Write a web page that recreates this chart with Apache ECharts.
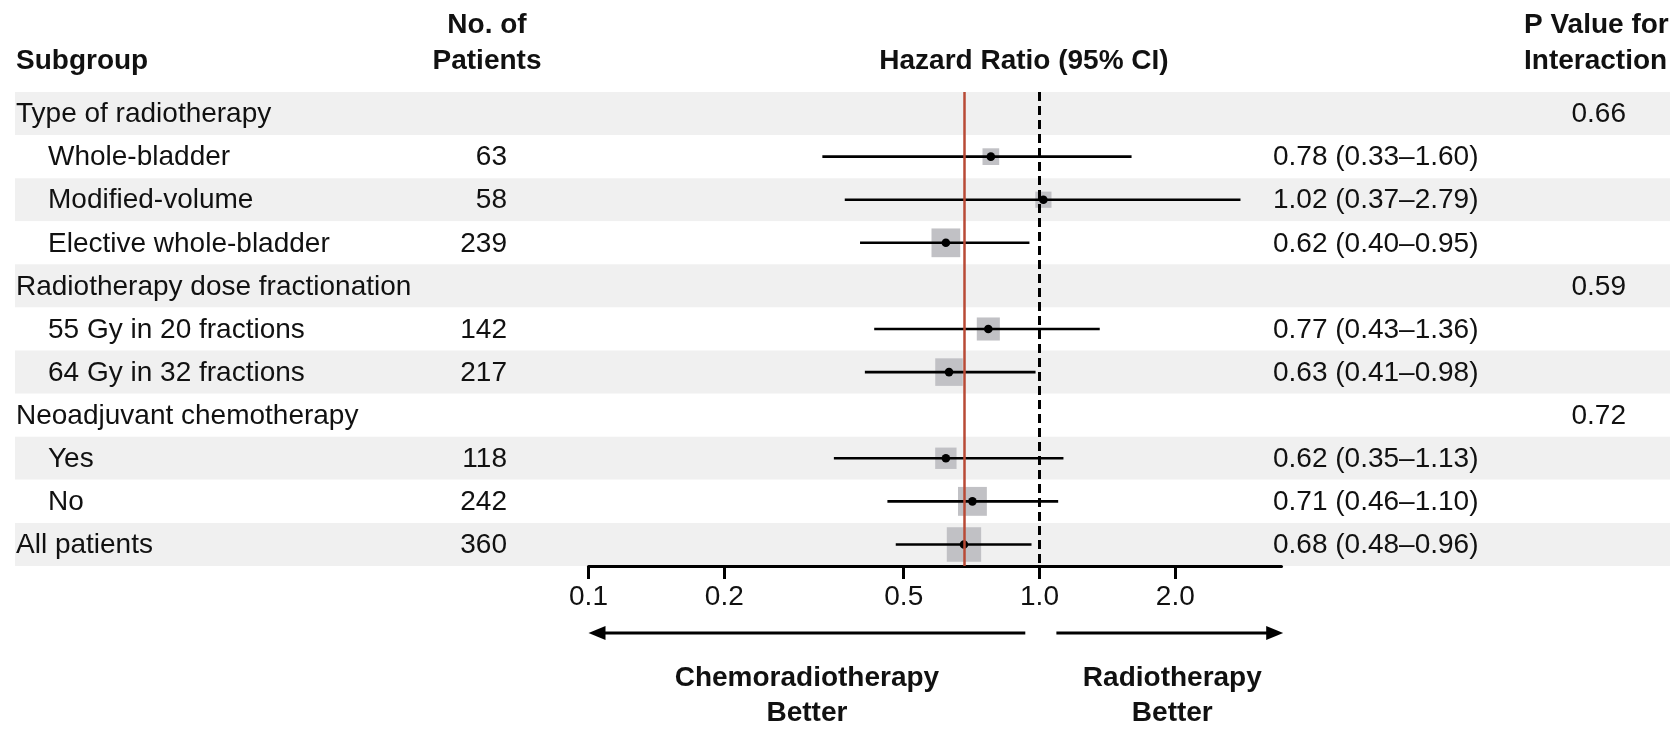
<!DOCTYPE html>
<html>
<head>
<meta charset="utf-8">
<script src="https://cdn.jsdelivr.net/npm/echarts@6/dist/echarts.min.js"></script>
<style>
  html, body { margin: 0; padding: 0; background: #ffffff; }
  #chart { width: 1670px; height: 730px; }
</style>
</head>
<body>
<div id="chart"></div>
<script>
// Forest plot: hazard ratios with 95% CI by subgroup
const subgroups = [
  'Type of radiotherapy', 'Whole-bladder', 'Modified-volume', 'Elective whole-bladder',
  'Radiotherapy dose fractionation', '55 Gy in 20 fractions', '64 Gy in 32 fractions',
  'Neoadjuvant chemotherapy', 'Yes', 'No', 'All patients'
];
const indented     = [false, true, true, true, false, true, true, false, true, true, false];
const patients     = [null, 63, 58, 239, null, 142, 217, null, 118, 242, 360];
const hazardRatio  = [null, 0.78, 1.02, 0.62, null, 0.77, 0.63, null, 0.62, 0.71, 0.68];
const ciLower      = [null, 0.33, 0.37, 0.40, null, 0.43, 0.41, null, 0.35, 0.46, 0.48];
const ciUpper      = [null, 1.60, 2.79, 0.95, null, 1.36, 0.98, null, 1.13, 1.10, 0.96];
const pInteraction = ['0.66', null, null, null, '0.59', null, null, '0.72', null, null, null];
const xTicks = [0.1, 0.2, 0.5, 1.0, 2.0];
const overallHR = 0.68;
const xMin = 0.1, xMax = 3.44;
const arrowLeft = [0.93, 0.1];
const arrowRight = [1.09, 3.47];
const favourLabels = [['Chemoradiotherapy', 'Better'], ['Radiotherapy', 'Better']];
const favourAt = [0.305, 1.97];

const FONT = '"Liberation Sans", Arial, sans-serif';
const FS = 28;
const INK = '#111111';
const DY = 1; // small baseline nudge for all text

// layout of the text columns (pixels)
const col = { group: 16, indent: 48, nRight: 507, hrLeft: 1273, pRight: 1626 };

const rowIdx = subgroups.map((_, i) => i);
const boxSize = n => 4 + 1.6 * Math.sqrt(n);

const estimates = rowIdx
  .filter(i => hazardRatio[i] != null)
  .map(i => [i, hazardRatio[i], ciLower[i], ciUpper[i], patients[i]]);

function txt(text, x, y, align, bold) {
  return {
    type: 'text',
    style: {
      text: text, x: x, y: y + DY,
      fill: INK,
      fontSize: FS, fontFamily: FONT, fontWeight: bold ? 'bold' : 'normal',
      align: align, verticalAlign: 'middle',
      textAlign: align, textVerticalAlign: 'middle'
    }
  };
}

const chart = echarts.init(document.getElementById('chart'), null, { renderer: 'canvas' });

const gridTop = 92, gridH = 474;

chart.setOption({
  animation: false,
  backgroundColor: '#ffffff',
  grid: [
    { left: 15, right: 0, top: gridTop, height: gridH },
    { left: 588.5, width: 693, top: gridTop, height: gridH }
  ],
  xAxis: [
    { gridIndex: 0, type: 'value', min: 0, max: 1, show: false },
    {
      gridIndex: 1, type: 'log', logBase: 10, min: xMin, max: xMax,
      axisLine: { show: true, lineStyle: { color: '#000', width: 3 } },
      axisTick: { show: true, customValues: xTicks, length: 13, lineStyle: { color: '#000', width: 3 } },
      axisLabel: {
        show: true, customValues: xTicks, margin: 31,
        verticalAlign: 'middle',
        color: INK, fontSize: FS, fontFamily: FONT,
        formatter: v => Number(v).toFixed(1)
      },
      splitLine: { show: false },
      minorTick: { show: false }
    }
  ],
  yAxis: [
    {
      gridIndex: 0, type: 'category', data: subgroups, inverse: true,
      axisLine: { show: false }, axisTick: { show: false }, axisLabel: { show: false },
      splitLine: { show: false },
      splitArea: { show: true, interval: 0, areaStyle: { color: ['#f0f0f0', '#ffffff'] } }
    },
    {
      gridIndex: 1, type: 'category', data: subgroups, inverse: true, show: false
    }
  ],
  graphic: [
    txt('Subgroup', 16, 60, 'left', true),
    txt('No. of', 487, 24, 'center', true),
    txt('Patients', 487, 60, 'center', true),
    txt('Hazard Ratio (95% CI)', 1024, 60, 'center', true),
    txt('P Value for', 1524, 24, 'left', true),
    txt('Interaction', 1524, 60, 'left', true)
  ],
  series: [
    {
      // table columns: subgroup, patients, HR text, interaction P
      name: 'table', type: 'custom', xAxisIndex: 0, yAxisIndex: 0, clip: false, z: 2,
      data: rowIdx.map(i => [0, i]),
      encode: { x: 0, y: 1 },
      renderItem: function (params, api) {
        const i = api.value(1);
        const y = api.coord([0, i])[1];
        const kids = [txt(subgroups[i], indented[i] ? col.indent : col.group, y, 'left', false)];
        if (patients[i] != null) kids.push(txt(String(patients[i]), col.nRight, y, 'right', false));
        if (hazardRatio[i] != null) {
          const s = hazardRatio[i].toFixed(2) + ' (' + ciLower[i].toFixed(2) + '\u2013' + ciUpper[i].toFixed(2) + ')';
          kids.push(txt(s, col.hrLeft, y, 'left', false));
        }
        if (pInteraction[i] != null) kids.push(txt(pInteraction[i], col.pRight, y, 'right', false));
        return { type: 'group', children: kids };
      }
    },
    {
      // reference lines: overall estimate and no effect
      name: 'refs', type: 'line', xAxisIndex: 1, yAxisIndex: 1, data: [], z: 1,
      markLine: {
        silent: true, symbol: ['none', 'none'], label: { show: false }, animation: false,
        data: [
          { xAxis: overallHR, lineStyle: { color: '#b84a36', width: 2.5, type: 'solid' } },
          { xAxis: 1, lineStyle: { color: '#000000', width: 3, type: [9, 5] } }
        ]
      }
    },
    {
      name: 'estimates', type: 'custom', xAxisIndex: 1, yAxisIndex: 1, clip: false, z: 3,
      data: estimates,
      encode: { x: [1, 2, 3], y: 0 },
      renderItem: function (params, api) {
        const row = api.value(0);
        const pHr = api.coord([api.value(1), row]);
        const pLo = api.coord([api.value(2), row]);
        const pHi = api.coord([api.value(3), row]);
        const s = boxSize(api.value(4));
        return {
          type: 'group',
          children: [
            { type: 'rect', shape: { x: pHr[0] - s / 2, y: pHr[1] - s / 2, width: s, height: s },
              style: { fill: '#c1c1c5' } },
            { type: 'line', shape: { x1: pLo[0], y1: pLo[1], x2: pHi[0], y2: pHi[1] },
              style: { stroke: '#000', lineWidth: 2.6 } },
            { type: 'circle', shape: { cx: pHr[0], cy: pHr[1], r: 4.3 }, style: { fill: '#000' } }
          ]
        };
      }
    },
    {
      // direction arrows and their captions under the axis
      name: 'favours', type: 'custom', xAxisIndex: 1, yAxisIndex: 1, clip: false, z: 3,
      data: [[1, 0]],
      encode: { x: 0, y: 1 },
      renderItem: function (params, api) {
        const cs = params.coordSys;
        const base = cs.y + cs.height;
        const yA = base + 67;
        const kids = [];
        [arrowLeft, arrowRight].forEach(function (span, k) {
          const x1 = api.coord([span[0], 0])[0];
          const x2 = api.coord([span[1], 0])[0];
          const dir = x2 > x1 ? 1 : -1;
          const head = 17, hw = 7;
          kids.push({ type: 'line', shape: { x1: x1, y1: yA, x2: x2 - dir * head * 0.6, y2: yA },
            style: { stroke: '#000', lineWidth: 3 } });
          kids.push({ type: 'polygon', shape: { points: [[x2, yA], [x2 - dir * head, yA - hw], [x2 - dir * head, yA + hw]] },
            style: { fill: '#000' } });
          const xc = api.coord([favourAt[k], 0])[0];
          kids.push(txt(favourLabels[k][0], xc, base + 111, 'center', true));
          kids.push(txt(favourLabels[k][1], xc, base + 146, 'center', true));
        });
        return { type: 'group', children: kids };
      }
    }
  ]
});
</script>
</body>
</html>
